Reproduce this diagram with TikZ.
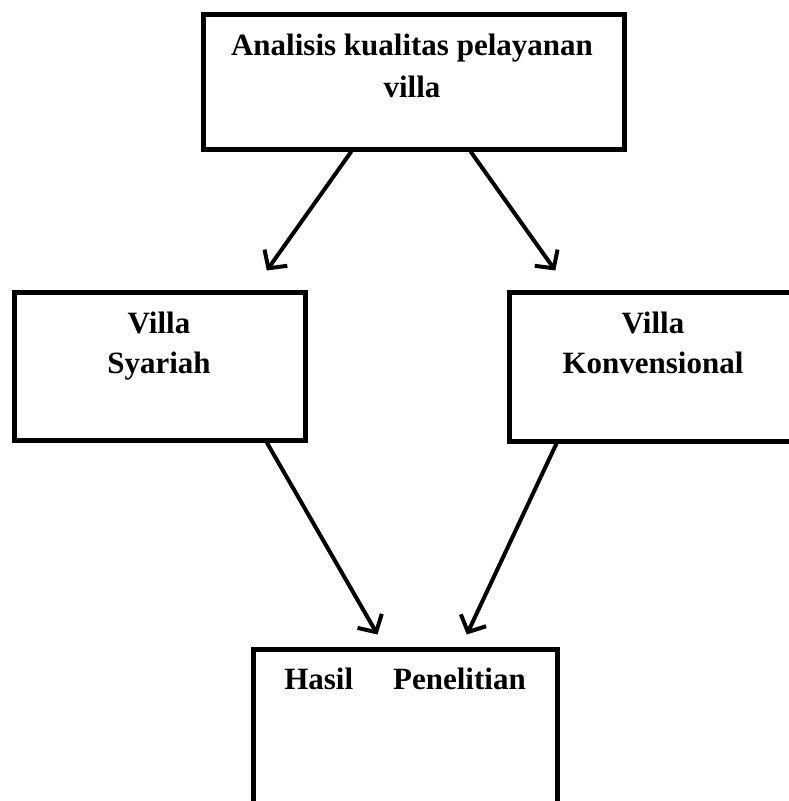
\documentclass[tikz,border=0pt]{standalone}
\usepackage{fontspec}
\setmainfont{Liberation Serif}
\usetikzlibrary{arrows.meta,calc}
\begin{document}
\begin{tikzpicture}[x=1pt,y=-1pt,
  box/.style={draw=black,line width=5pt,rectangle,inner sep=0pt,fill=white},
  lbl/.style={anchor=base,inner sep=0pt,font=\fontsize{31}{41}\selectfont\bfseries},
  conn/.style={line width=4pt,-{Straight Barb[length=13pt,width=28pt,line width=4pt]}}]
\useasboundingbox (0,0) rectangle (789,801);
\node[box,minimum width=421pt,minimum height=135pt] (top) at (413.5,81.5) {};
\node[box,minimum width=291pt,minimum height=148pt] (left) at (159.5,366) {};
\node[box,minimum width=289pt,minimum height=149pt] (right) at (653.5,366.5) {};
\node[box,minimum width=304pt,minimum height=171pt] (bottom) at (405,734.5) {};
\node[lbl] (t1) at (412,55) {Analisis kualitas pelayanan};
\node[lbl] (t2) at (412,97) {villa};
\node[lbl] (l1) at (159,333) {Villa};
\node[lbl] (l2) at (159,373) {Syariah};
\node[lbl] (r1) at (653,333) {Villa};
\node[lbl] (r2) at (653,373) {Konvensional};
\node[lbl] (b1) at (405,689) {Hasil\hspace{40pt}Penelitian};
\coordinate (a1s) at ($(top.south west)!0.354!(top.south east)$);
\coordinate (a1e) at ($(left.north west)!0.8625!(left.north east)+(0,-19)$);
\coordinate (a2s) at ($(top.south west)!0.634!(top.south east)$);
\coordinate (a2e) at ($(right.north west)!0.166!(right.north east)+(0,-19)$);
\coordinate (a3s) at ($(left.south west)!0.8625!(left.south east)$);
\coordinate (a3e) at ($(bottom.north west)!0.411!(bottom.north east)+(0,-12)$);
\coordinate (a4s) at ($(right.south west)!0.17!(right.south east)$);
\coordinate (a4e) at ($(bottom.north west)!0.70!(bottom.north east)+(0,-12)$);
\draw[conn] (a1s) -- (a1e);
\draw[conn] (a2s) -- (a2e);
\draw[conn] (a3s) -- (a3e);
\draw[conn] (a4s) -- (a4e);
\end{tikzpicture}
\end{document}
